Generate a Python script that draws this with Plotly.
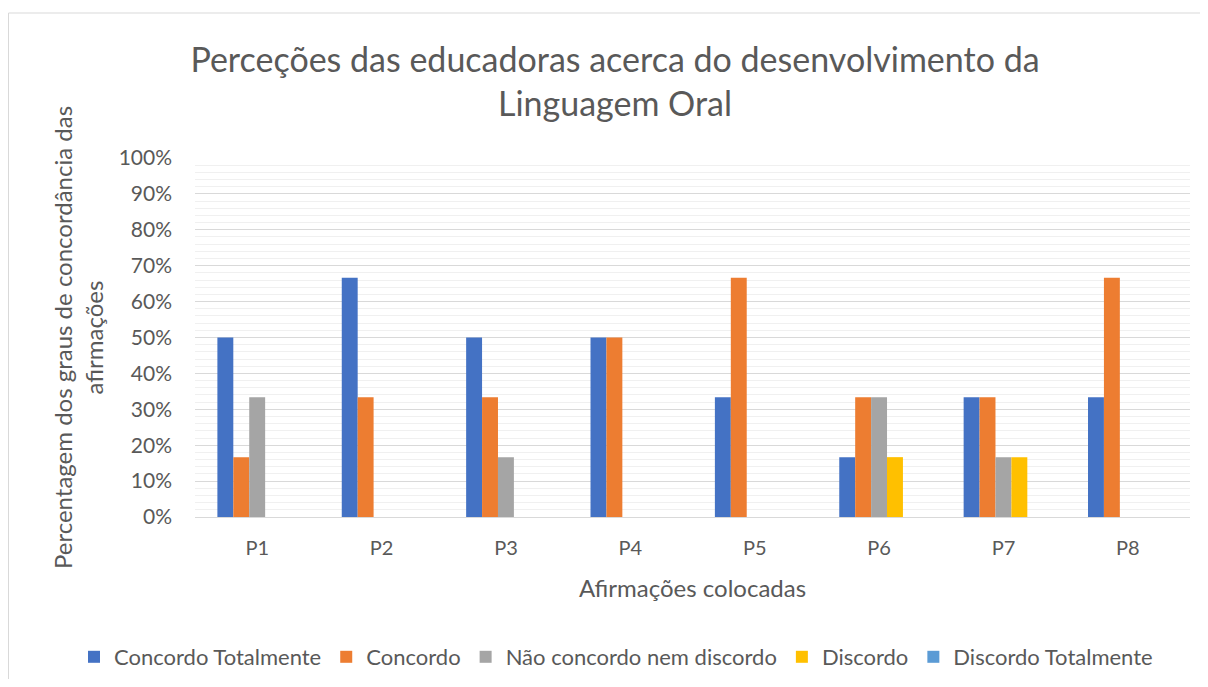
import plotly.graph_objects as go

categories = ["P1", "P2", "P3", "P4", "P5", "P6", "P7", "P8"]
series_names = ["Concordo Totalmente", "Concordo", "Não concordo nem discordo", "Discordo", "Discordo Totalmente"]
concordo_totalmente = [0.50, 0.6667, 0.50, 0.50, 0.3333, 0.1667, 0.3333, 0.3333]
concordo = [0.1667, 0.3333, 0.3333, 0.50, 0.6667, 0.3333, 0.3333, 0.6667]
nao_concordo = [0.3333, 0, 0.1667, 0, 0, 0.3333, 0.1667, 0]
discordo = [0, 0, 0, 0, 0, 0.1667, 0.1667, 0]
discordo_totalmente = [0, 0, 0, 0, 0, 0, 0, 0]
colors = ["#4472C4", "#ED7D31", "#A5A5A5", "#FFC000", "#5B9BD5"]

values = [concordo_totalmente, concordo, nao_concordo, discordo, discordo_totalmente]

FONT = "Lato"
GREY = "#595959"

fig = go.Figure()
for name, vals, col in zip(series_names, values, colors):
    fig.add_trace(go.Bar(x=categories, y=vals, name=name, marker_color=col,
                         marker_line_width=0))

# page has an 8px body margin; figure coordinates = page - 8
W, H = 1192, 671
L, R, T, B = 187, 10, 150, 162
pw, ph = W - L - R, H - T - B

def px_x(p):
    return (p - L) / pw

def px_y(p):
    return (H - B - p) / ph

fig.update_layout(
    width=W, height=H,
    margin=dict(l=L, r=R, t=T, b=B, autoexpand=False),
    paper_bgcolor="white", plot_bgcolor="white",
    barmode="group", bargap=0.36, bargroupgap=0,
    font=dict(family=FONT, color=GREY),
    title=dict(text="Perceções das educadoras acerca do desenvolvimento da<br>Linguagem Oral",
               x=607 / W, xanchor="center", y=1 - 64 / H, yanchor="middle",
               font=dict(size=34, color=GREY, family=FONT)),
    legend=dict(orientation="h", x=px_x(66), xanchor="left", xref="paper",
                y=px_y(649), yref="paper", yanchor="middle",
                font=dict(size=22, color=GREY, family=FONT),
                itemwidth=30, tracegroupgap=0, traceorder="normal"),
    showlegend=True,
)
fig.update_yaxes(range=[0, 1], tickformat=".0%", dtick=0.1,
                 tickfont=dict(size=21, color=GREY),
                 showgrid=True, gridcolor="#D9D9D9", gridwidth=1,
                 minor=dict(dtick=0.02, showgrid=True, gridcolor="#F0F0F0", gridwidth=1),
                 zeroline=False, showline=False, ticklabelstandoff=22,
                 title=dict(text="Percentagem dos graus de concordância das<br>afirmações",
                            font=dict(size=24, color=GREY), standoff=8))
fig.update_xaxes(tickfont=dict(size=20, color=GREY), showline=True, linecolor="#D9D9D9",
                 linewidth=1, ticks="", ticklabelstandoff=13,
                 title=dict(text="Afirmações colocadas", font=dict(size=24, color=GREY), standoff=22))

fig.add_shape(type="rect", xref="paper", yref="paper",
              x0=px_x(0.5), x1=px_x(W + 5), y0=px_y(H + 5), y1=px_y(5),
              line=dict(color="#D9D9D9", width=1), fillcolor="rgba(0,0,0,0)", layer="below")

fig.write_html("out.html")
